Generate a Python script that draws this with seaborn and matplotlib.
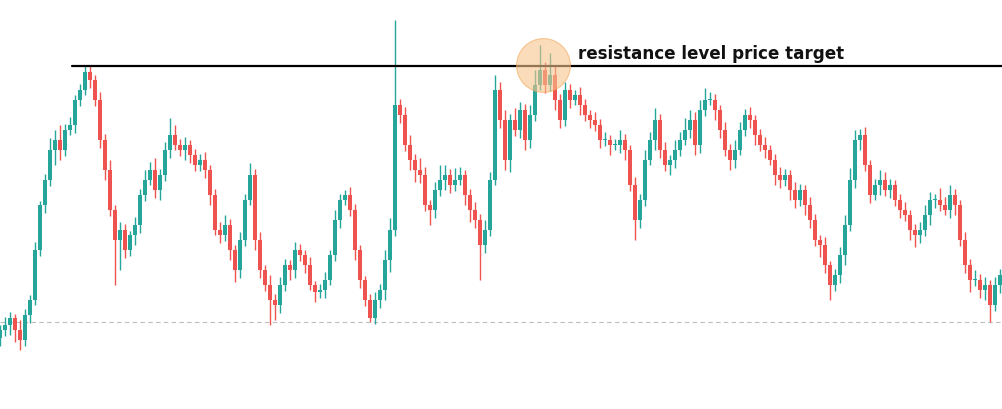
import numpy as np
import pandas as pd
import matplotlib
matplotlib.use("Agg")
import matplotlib.pyplot as plt
import seaborn as sns

# closing prices, one candle every 5 px
close = [70, 75, 82, 70, 60, 85, 100, 150, 195, 220, 250, 260, 250, 270, 275, 300, 310, 328, 320, 300,
         260, 230, 190, 160, 170, 150, 165, 175, 205, 220, 230, 210, 225, 250, 265, 255, 250, 255, 245, 235,
         240, 230, 205, 170, 165, 175, 150, 130, 160, 200, 225, 160, 130, 115, 100, 95, 115, 135, 130, 150,
         145, 135, 115, 108, 110, 120, 145, 180, 200, 205, 190, 150, 120, 100, 82, 100, 110, 140, 170, 295,
         285, 255, 240, 230, 225, 195, 190, 210, 220, 225, 215, 220, 225, 205, 190, 180, 155, 170, 220, 310,
         280, 240, 280, 270, 290, 260, 285, 315, 330, 315, 325, 300, 280, 310, 300, 305, 295, 285, 280, 275,
         260, 260, 255, 255, 260, 250, 215, 180, 200, 240, 260, 280, 250, 235, 240, 250, 260, 270, 280, 255,
         290, 300, 300, 290, 270, 250, 240, 250, 270, 285, 280, 265, 255, 250, 240, 225, 220, 225, 210, 200,
         210, 195, 180, 160, 155, 135, 115, 125, 145, 175, 220, 260, 265, 235, 205, 215, 220, 210, 215, 200,
         190, 185, 170, 165, 170, 185, 200, 200, 195, 190, 205, 195, 160, 135, 120, 120, 110, 115, 95, 115,
         125]
first_open = 62

up_wick = [5, 8, 6, 4, 10, 6, 5, 8, 4, 6, 12, 10, 15, 6, 8, 5, 6, 7, 6, 5,
           8, 6, 10, 5, 8, 6, 4, 8, 6, 10, 8, 12, 6, 8, 17, 10, 6, 8, 5, 6,
           6, 8, 5, 6, 8, 10, 6, 5, 8, 6, 12, 6, 8, 5, 10, 6, 8, 6, 5, 8,
           6, 5, 8, 4, 6, 8, 5, 10, 6, 5, 8, 6, 5, 4, 6, 8, 6, 10, 12, 85,
           6, 8, 10, 6, 12, 8, 5, 8, 15, 10, 6, 12, 8, 5, 6, 8, 6, 10, 8, 15,
           8, 10, 6, 12, 8, 6, 10, 15, 25, 8, 22, 10, 6, 8, 6, 5, 8, 6, 5, 8,
           6, 8, 5, 6, 10, 6, 5, 8, 6, 10, 8, 12, 6, 8, 5, 10, 8, 12, 10, 8,
           10, 12, 8, 6, 5, 8, 6, 10, 8, 6, 8, 5, 6, 8, 5, 6, 8, 6, 5, 8,
           6, 5, 8, 6, 5, 8, 4, 6, 8, 10, 12, 10, 6, 8, 5, 6, 10, 8, 6, 5,
           6, 8, 5, 6, 8, 10, 8, 6, 12, 8, 10, 6, 5, 8, 6, 10, 6, 8, 5, 8,
           6]
dn_wick = [8, 6, 10, 12, 10, 6, 8, 5, 6, 8, 6, 15, 10, 6, 5, 8, 6, 5, 8, 6,
           8, 10, 6, 45, 30, 8, 6, 10, 8, 6, 5, 8, 10, 6, 8, 5, 6, 10, 8, 6,
           6, 8, 10, 5, 8, 6, 10, 12, 8, 6, 5, 10, 8, 6, 25, 15, 8, 6, 10, 8,
           6, 8, 5, 10, 6, 8, 5, 6, 8, 5, 6, 10, 8, 6, 4, 6, 8, 10, 12, 6,
           8, 6, 10, 12, 8, 6, 15, 8, 6, 10, 8, 6, 5, 10, 12, 8, 35, 8, 6, 5,
           8, 10, 12, 6, 8, 10, 8, 6, 5, 8, 6, 10, 8, 6, 8, 5, 10, 6, 8, 6,
           8, 6, 10, 5, 8, 10, 6, 20, 8, 6, 5, 10, 8, 6, 10, 8, 6, 5, 8, 10,
           8, 6, 5, 10, 8, 6, 10, 8, 5, 6, 8, 10, 6, 8, 5, 10, 8, 6, 10, 8,
           6, 10, 8, 6, 12, 8, 15, 6, 8, 10, 6, 8, 10, 6, 8, 5, 10, 6, 8, 6,
           8, 6, 10, 12, 8, 6, 10, 8, 6, 5, 8, 10, 6, 8, 12, 6, 8, 10, 17, 6,
           8]

resistance = 334
support = 78
label = "resistance level price target"

df = pd.DataFrame({"close": close, "up": up_wick, "dn": dn_wick})
df["open"] = df["close"].shift(1).fillna(first_open)
df["top"] = df[["open", "close"]].max(axis=1)
df["bot"] = df[["open", "close"]].min(axis=1)
df["high"] = df["top"] + df["up"]
df["low"] = df["bot"] - df["dn"]
df["rise"] = df["close"] >= df["open"]
df["x"] = np.arange(len(df))

green = "#26a69a"
red = "#ef5350"

sns.set_style("white")
fig = plt.figure(figsize=(10.02, 4.09), dpi=100)
ax = fig.add_axes([0, 0, 1, 1])

colors = np.where(df["rise"], green, red)
ax.vlines(df["x"], df["low"], df["high"], colors=colors, lw=1, zorder=2)
ax.bar(df["x"], np.maximum(df["top"] - df["bot"], 1.2), bottom=df["bot"],
       width=0.7, color=colors, linewidth=0, zorder=3)

ax.axhline(support, color="#bdbdbd", lw=0.8, ls=(0, (4, 3)), zorder=1)
line = pd.DataFrame({"x": [14.4, 200.4], "y": [resistance, resistance]})
sns.lineplot(data=line, x="x", y="y", color="black", lw=1.6, ax=ax, zorder=4)

peak = pd.DataFrame({"x": [108.6], "y": [335]})
sns.scatterplot(data=peak, x="x", y="y", s=1500, color="#f7c38c", alpha=0.6,
                edgecolor="#f2a95a", linewidth=0.8, ax=ax, zorder=5)

ax.text(115.6, 346, label, fontsize=12.1, fontweight="bold", color="#111111",
        ha="left", va="center", zorder=6)

ax.set_xlim(0, 200.4)
ax.set_ylim(-9, 400)
ax.set_axis_off()

fig.savefig("out.png", dpi=100)
